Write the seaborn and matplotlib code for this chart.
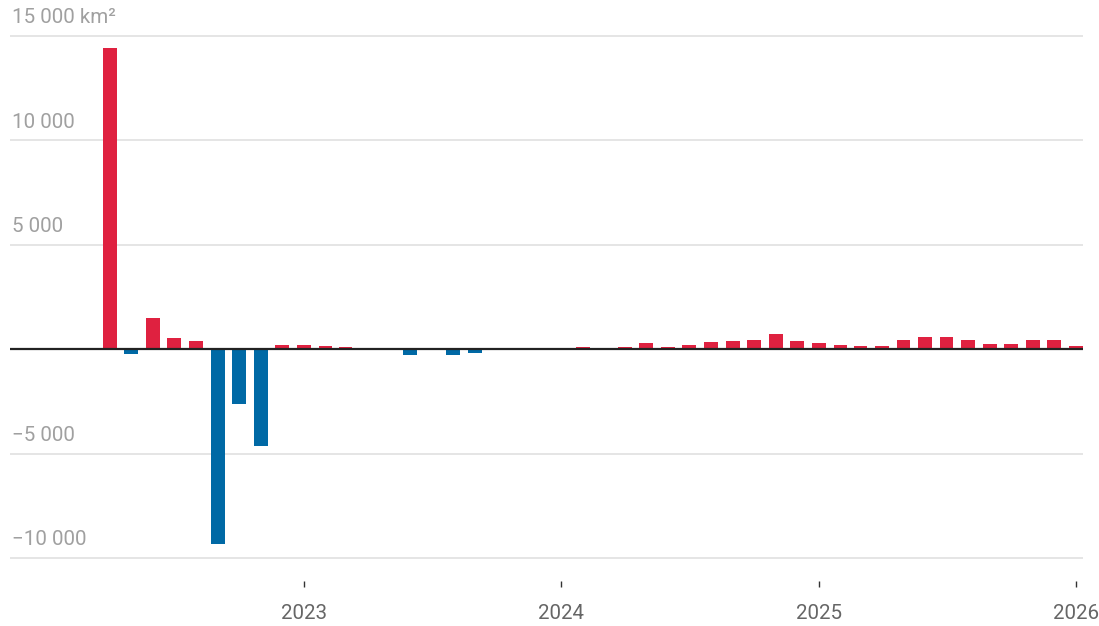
import matplotlib
matplotlib.use("Agg")
import matplotlib.pyplot as plt
import matplotlib.dates as mdates
import matplotlib.transforms as mtransforms
import seaborn as sns
import pandas as pd
import numpy as np
from datetime import datetime

# ---- data ----
months = pd.date_range("2022-04-01", "2026-01-01", freq="MS")
values = [
    14400, -250, 1500, 520, 370, -9320, -2630, -4620, 220,          # 2022 Apr-Dec
    200, 160, 80, 0, 0, -300, 0, -270, -170, 0, 0, 70,              # 2023
    0, 120, 0, 120, 290, 80, 180, 350, 380, 460, 730, 380,          # 2024
    300, 180, 130, 170, 430, 560, 560, 460, 270, 270, 460, 430,     # 2025
    130,                                                            # 2026 Jan
]
ytick_values = [-10000, -5000, 0, 5000, 10000, 15000]
ytick_labels = ["\u221210 000", "\u22125 000", "", "5 000", "10 000", "15 000 km\u00b2"]
xtick_years = [2023, 2024, 2025, 2026]

df = pd.DataFrame({
    "x": mdates.date2num(months.to_pydatetime()),
    "value": values,
})
df["sign"] = np.where(df["value"] >= 0, "pos", "neg")

RED = "#DF2140"
BLUE = "#0069A5"

sns.set_theme(style="white")
plt.rcParams["font.family"] = ["Roboto", "DejaVu Sans"]

fig = plt.figure(figsize=(10.99, 6.26), dpi=100)
ax = fig.add_axes([10 / 1099, (626 - 581) / 626, 1073 / 1099, 566 / 626])

sns.barplot(data=df, x="x", y="value", hue="sign",
            palette={"pos": RED, "neg": BLUE}, native_scale=True,
            dodge=False, width=0.69, legend=False, ax=ax,
            saturation=1, linewidth=0, zorder=3)

ax.set_xlim(mdates.date2num(datetime(2021, 11, 10)), mdates.date2num(datetime(2026, 1, 11)))
ax.set_ylim(-11100, 16000)

# grid lines
for v in ytick_values:
    if v == 0:
        ax.axhline(0, color="#222222", lw=1.6, zorder=4)
    else:
        ax.axhline(v, color="#e3e3e3", lw=1.3, zorder=1)

ax.set_yticks([])
trans = mtransforms.blended_transform_factory(ax.transAxes, ax.transData)
for v, lab in zip(ytick_values, ytick_labels):
    if lab:
        ax.text(0.002, v + 420, lab, transform=trans, ha="left", va="bottom",
                fontsize=14.8, color="#a0a0a0")

ax.set_xticks([mdates.date2num(datetime(y, 1, 1)) for y in xtick_years])
ax.set_xticklabels([str(y) for y in xtick_years], fontsize=14.8, color="#666666")
ax.tick_params(axis="x", length=4.5, width=1, color="#333333", pad=12, bottom=True)
ax.set_xlabel("")
ax.set_ylabel("")

for s in ax.spines.values():
    s.set_visible(False)

fig.savefig("out.png", dpi=100)
